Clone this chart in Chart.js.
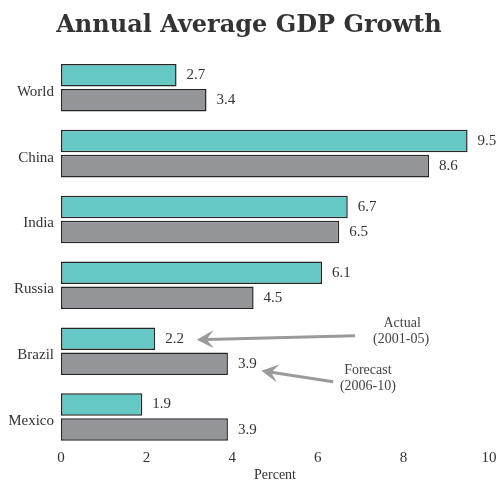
<!DOCTYPE html>
<html>
<head>
<meta charset="utf-8">
<script src="https://cdn.jsdelivr.net/npm/chart.js@4/dist/chart.umd.min.js"></script>
<style>
html,body{margin:0;padding:0;background:#fff;}
#wrap{width:504px;height:482px;position:relative;}
</style>
</head>
<body>
<div id="wrap"><canvas id="c" width="504" height="482"></canvas></div>
<script>
const categories = ["World", "China", "India", "Russia", "Brazil", "Mexico"];
const actual = [2.7, 9.5, 6.7, 6.1, 2.2, 1.9];
const forecast = [3.4, 8.6, 6.5, 4.5, 3.9, 3.9];
const seriesNames = ["Actual (2001-05)", "Forecast (2006-10)"];
const xTicks = [0, 2, 4, 6, 8, 10];

const SERIF = '"Liberation Serif", "DejaVu Serif", serif';
const TEXT = '#333333';

const valueLabels = {
  id: 'valueLabels',
  afterDatasetsDraw(chart) {
    const ctx = chart.ctx;
    ctx.save();
    ctx.font = '15px ' + SERIF;
    ctx.fillStyle = TEXT;
    ctx.textAlign = 'left';
    ctx.textBaseline = 'middle';
    chart.data.datasets.forEach((ds, di) => {
      const meta = chart.getDatasetMeta(di);
      meta.data.forEach((bar, i) => {
        ctx.fillText(ds.data[i].toFixed(1), bar.x + 10, bar.y);
      });
    });
    ctx.restore();
  }
};

function arrow(ctx, x1, y1, x2, y2) {
  const ang = Math.atan2(y2 - y1, x2 - x1);
  const len = 17, wing = 9, notch = 10;
  const bx = x2 - Math.cos(ang) * notch, by = y2 - Math.sin(ang) * notch;
  ctx.beginPath();
  ctx.moveTo(x1, y1);
  ctx.lineTo(bx, by);
  ctx.stroke();
  const cx = x2 - Math.cos(ang) * len, cy = y2 - Math.sin(ang) * len;
  const px = -Math.sin(ang), py = Math.cos(ang);
  ctx.beginPath();
  ctx.moveTo(x2, y2);
  ctx.lineTo(cx + px * wing, cy + py * wing);
  ctx.lineTo(bx, by);
  ctx.lineTo(cx - px * wing, cy - py * wing);
  ctx.closePath();
  ctx.fill();
}

const annotations = {
  id: 'annotations',
  afterDatasetsDraw(chart) {
    const ctx = chart.ctx;
    const xs = chart.scales.x;
    const ai = categories.indexOf('Brazil');
    const barA = chart.getDatasetMeta(0).data[ai];
    const barF = chart.getDatasetMeta(1).data[ai];
    ctx.save();
    ctx.strokeStyle = '#999a9c';
    ctx.fillStyle = '#999a9c';
    ctx.lineWidth = 3;
    arrow(ctx, xs.getPixelForValue(6.87), barA.y - 3, xs.getPixelForValue(3.17), barA.y + 1);
    arrow(ctx, xs.getPixelForValue(6.36), barF.y + 18, xs.getPixelForValue(4.68), barF.y + 7);
    ctx.font = '14px ' + SERIF;
    ctx.fillStyle = '#444';
    ctx.textAlign = 'center';
    ctx.textBaseline = 'middle';
    const ax = xs.getPixelForValue(7.97);
    ctx.fillText('Actual', ax, barA.y - 15);
    ctx.fillText('(2001-05)', ax - 1, barA.y + 1);
    const fx = xs.getPixelForValue(7.17);
    ctx.fillText('Forecast', fx, barF.y + 7);
    ctx.fillText('(2006-10)', fx, barF.y + 23);
    ctx.restore();
  }
};

new Chart(document.getElementById('c'), {
  type: 'bar',
  data: {
    labels: categories,
    datasets: [
      { label: seriesNames[0], data: actual, backgroundColor: '#66c8c4', borderColor: '#262626', borderWidth: 1.5, borderSkipped: false },
      { label: seriesNames[1], data: forecast, backgroundColor: '#939598', borderColor: '#262626', borderWidth: 1.5, borderSkipped: false }
    ]
  },
  options: {
    indexAxis: 'y',
    responsive: false,
    animation: false,
    devicePixelRatio: 1,
    categoryPercentage: 0.76,
    barPercentage: 0.9,
    layout: { padding: { left: 9, right: 15, top: 11, bottom: 0 } },
    plugins: {
      legend: { display: false },
      tooltip: { enabled: false },
      title: {
        display: true,
        text: 'Annual Average GDP Growth',
        color: TEXT,
        font: { family: '"DejaVu Serif", serif', size: 24, weight: 'bold', lineHeight: 1.2 },
        padding: { top: 0, bottom: 15 }
      }
    },
    scales: {
      x: {
        min: 0, max: 10,
        afterBuildTicks(scale) { scale.ticks = xTicks.map(v => ({ value: v })); },
        grid: { display: false, drawTicks: false },
        border: { display: false },
        ticks: { color: TEXT, font: { family: SERIF, size: 15, lineHeight: 1 }, padding: 1 },
        title: { display: true, text: 'Percent', color: TEXT, font: { family: SERIF, size: 14, lineHeight: 1 }, padding: { top: 1, bottom: 0 } }
      },
      y: {
        grid: { display: false, drawTicks: false },
        border: { display: false },
        afterFit(scale) { scale.width = 52; },
        ticks: { color: TEXT, font: { family: SERIF, size: 15 }, padding: 7, labelOffset: 4 }
      }
    }
  },
  plugins: [valueLabels, annotations]
});
</script>
</body>
</html>
